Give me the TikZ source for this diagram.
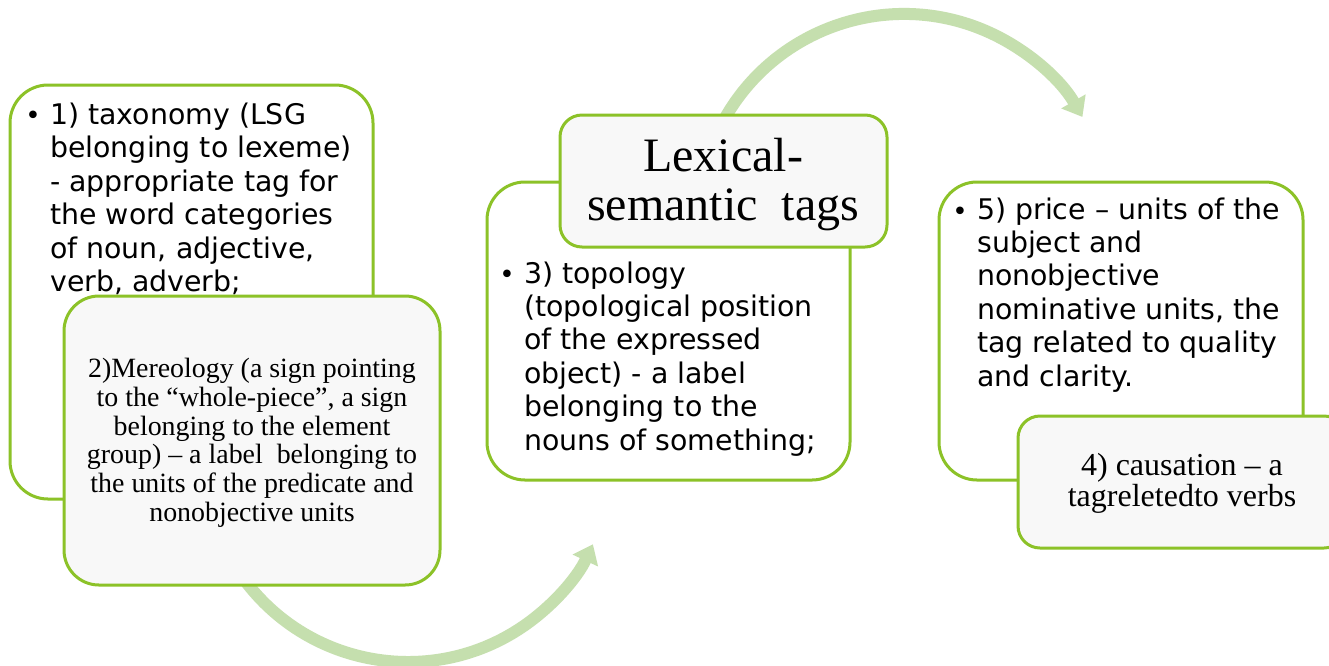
\documentclass[tikz,border=0pt]{standalone}
\usepackage{fontspec}
\setmainfont{Liberation Serif}
\newfontfamily\bsans{DejaVu Sans}
\usetikzlibrary{arrows.meta}
\definecolor{edgegreen}{RGB}{140,194,40}
\definecolor{arrowgreen}{RGB}{197,223,174}
\definecolor{softgray}{RGB}{248,248,248}
\begin{document}
\begin{tikzpicture}[x=1pt,y=-1pt,
  panel/.style={draw=edgegreen, line width=3pt, rounded corners=#1, inner sep=0pt, outer sep=0pt, fill=white},
  greypanel/.style={panel=#1, fill=softgray},
  flow/.style={draw=arrowgreen, line width=12pt, -{Triangle[length=18pt,width=27pt]}},
  sanstext/.style={font=\bsans\fontsize{28.4}{33.4}\selectfont, align=left, inner sep=0pt, anchor=base west},
  bulletmark/.style={font=\bsans\fontsize{26}{33.4}\selectfont, inner sep=0pt, anchor=base}]
\useasboundingbox (0,0) rectangle (1329,665);
\clip (0,0) rectangle (1329,665);
\fill[white] (0,0) rectangle (1329,665);
% arrows (behind the boxes)
\coordinate (a1s) at (240.9,575.0);
\coordinate (a2s) at (717.3,132.9);
\draw[flow] (a1s) arc[start angle=145, end angle=25, radius=204];
\draw[flow] (a2s) arc[start angle=205, end angle=330, radius=206];
% box 1
\node[panel=38pt, minimum width=363pt, minimum height=414pt] (b1) at (191.5,292) {};
\node[bulletmark] (d1) at (33,124.5) {•};
\node[sanstext] (t1) at (50,291.5) {1) taxonomy (LSG\\belonging to lexeme)\\- appropriate tag for\\the word categories\\of noun, adjective,\\verb, adverb;};
% box 2
\node[greypanel=35pt, minimum width=376pt, minimum height=289pt] (b2) at (252,440.5) {};
\node[font=\fontsize{27.9}{28.9}\selectfont, align=center, inner sep=0pt, anchor=base] (t2) at (252,521.7) {2)Mereology (a sign pointing\\to the “whole-piece”, a sign\\belonging to the element\\group) – a label\ \ belonging to\\the units of the predicate and\\nonobjective units};
% box 3
\node[panel=38pt, minimum width=363pt, minimum height=298pt] (b3) at (668.5,331) {};
\node[bulletmark] (d3) at (507,283.3) {•};
\node[sanstext] (t3) at (524,450) {3) topology\\(topological position\\of the expressed\\object) - a label\\belonging to the\\nouns of something;};
% title
\node[greypanel=22pt, minimum width=327pt, minimum height=132pt] (tb) at (723.5,181) {};
\node[font=\fontsize{48}{48.3}\selectfont, align=center, inner sep=0pt, anchor=base] (tt) at (723,220) {Lexical-\\semantic\ \ tags};
% box 5
\node[panel=38pt, minimum width=364pt, minimum height=298pt] (b5) at (1121,331) {};
\node[bulletmark] (d5) at (960,220) {•};
\node[sanstext] (t5) at (977,386) {5) price – units of the\\subject and\\nonobjective\\nominative units, the\\tag related to quality\\and clarity.};
% box 4
\node[greypanel=22pt, minimum width=328pt, minimum height=132pt] (b4) at (1182,482) {};
\node[font=\fontsize{32}{31.7}\selectfont, align=center, inner sep=0pt, anchor=base] (t4) at (1182,506.7) {4) causation – a\\tagreletedto verbs};
\end{tikzpicture}
\end{document}
